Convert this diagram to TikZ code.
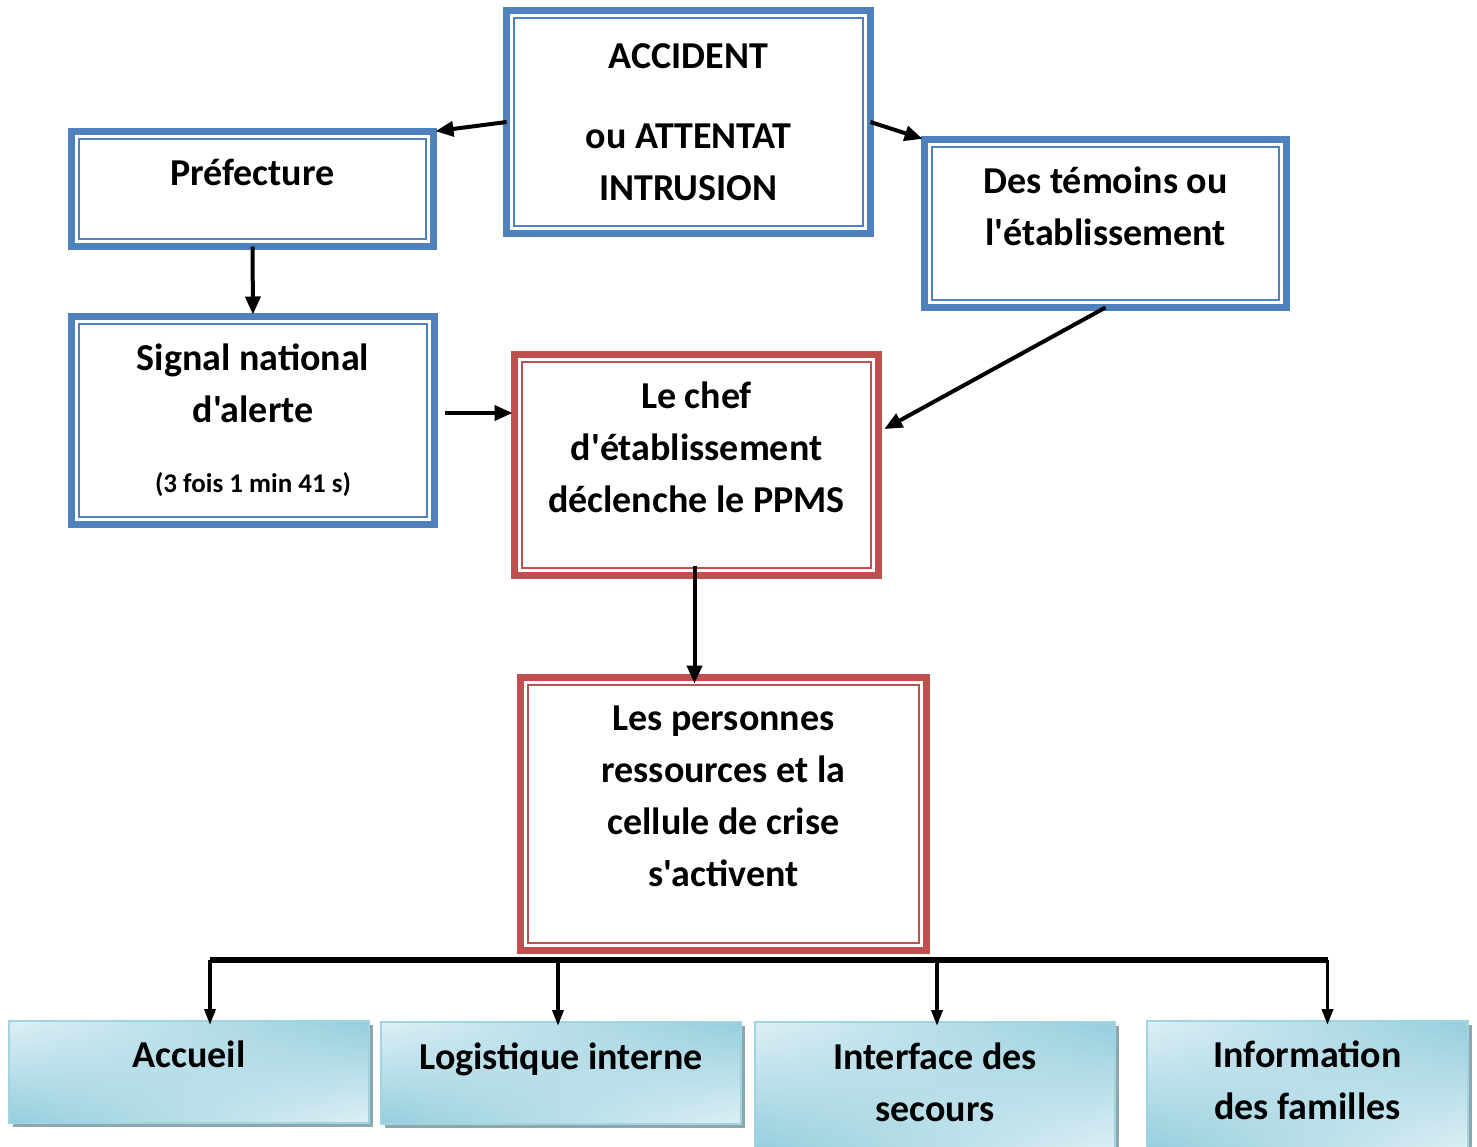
\documentclass[tikz,border=0pt]{standalone}
\usepackage{fontspec}
\newfontfamily\calibri{Carlito}
\usetikzlibrary{arrows.meta,shadows,shadings}
\definecolor{boxblue}{HTML}{4F81BD}
\definecolor{boxred}{HTML}{C0504D}
\definecolor{aqualight}{HTML}{DDEFF5}
\definecolor{aquadark}{HTML}{94CEDD}
\definecolor{aquaedge}{HTML}{A0D4E1}
\definecolor{shadowgray}{HTML}{8EA6B0}

\begin{document}
\begin{tikzpicture}[x=0.5pt,y=-0.5pt,>={Triangle[length=9pt,width=7.5pt]},
  txt/.style={font=\calibri\fontsize{19}{26}\selectfont\bfseries,align=center,inner sep=0pt,outer sep=0pt},
  framed/.style={txt,draw=#1,line width=3.5pt},
  bluebox/.style={framed=boxblue},
  redbox/.style={framed=boxred},
  servicebox/.style={txt,draw=aquaedge,line width=1pt,
    upper left=aqualight,upper right=aquadark,lower left=aquadark,lower right=aqualight,
    drop shadow={shadow xshift=2pt,shadow yshift=-2pt,fill=shadowgray,opacity=1}},
  link/.style={->,line width=2pt,shorten >=1pt},
  drop/.style={-{Triangle[length=8pt,width=5.5pt]},line width=1.75pt},
  bus/.style={line width=3pt}]
\useasboundingbox (0,0) rectangle (1477,1146);
\clip (0,0) rectangle (1477,1146);
\node[bluebox,minimum width=182pt,minimum height=111.5pt] (accident) at (688.5,122) {ACCIDENT\\[14pt]ou ATTENTAT\\INTRUSION};
\node[bluebox,minimum width=181pt,minimum height=57.5pt,text depth=17pt] (prefecture) at (252.5,189) {Préfecture};
\node[bluebox,minimum width=181pt,minimum height=84pt,text depth=17.5pt] (temoins) at (1105.5,223.5) {Des témoins ou\\l'établissement};
\node[bluebox,minimum width=181.5pt,minimum height=104pt] (signal) at (253,420.5) {Signal national\\d'alerte\\[9pt]{\fontsize{13.5}{18}\selectfont(3 fois 1 min 41 s)}};
\node[redbox,minimum width=182pt,minimum height=110.5pt,text depth=18pt] (chef) at (696.5,465) {Le chef\\d'établissement\\déclenche le PPMS};
\node[redbox,minimum width=203pt,minimum height=136.5pt,text depth=18pt] (personnes) at (723.5,814) {Les personnes\\ressources et la\\cellule de crise\\s'activent};
% thin inner frames
\foreach \n in {accident,prefecture,temoins,signal}
  \draw[boxblue,line width=1pt] ([shift={(7.5,7.5)}]\n.north west) rectangle ([shift={(-7.5,-7.5)}]\n.south east);
\foreach \n in {chef,personnes}
  \draw[boxred,line width=1pt] ([shift={(7.5,7.5)}]\n.north west) rectangle ([shift={(-7.5,-7.5)}]\n.south east);
\node[servicebox,minimum width=180pt,minimum height=51pt,text depth=18pt] (accueil) at (189,1072) {Accueil};
\node[servicebox,minimum width=180pt,minimum height=51pt,text depth=17pt] (logistique) at (561,1073) {Logistique interne};
\node[servicebox,minimum width=180pt,minimum height=64pt,text depth=4pt] (interface) at (935,1086) {Interface des\\secours};
\node[servicebox,minimum width=160.5pt,minimum height=64.5pt,text depth=5.5pt] (familles) at (1307.5,1085.5) {Information\\des familles};
\draw[link] (accident.west) -- (prefecture.north east);
\draw[link] (accident.east) -- (temoins.north west);
\draw[link] (prefecture.south) -- (signal.north);
\coordinate (s1) at ([shift={(10,-7.5)}]signal.east);
\draw[link] (s1) -- (s1 -| chef.west);
\draw[link] (temoins.south) -- ([shift={(4,-35)}]chef.east);
\draw[link] ([shift={(-2,-10)}]chef.south) -- ([shift={(-2,8)}]chef.south |- personnes.north);
\coordinate (bus) at ([shift={(0,9)}]personnes.south);
\draw[bus] ([shift={(21,0)}]accueil.north |- bus) -- ([shift={(20,0)}]familles.north |- bus);
\foreach \n/\dx in {accueil/21,logistique/-3,interface/2,familles/20}
  \draw[drop] ([shift={(\dx,0)}]\n.north |- bus) -- ([shift={(\dx,4)}]\n.north);
\end{tikzpicture}
\end{document}
